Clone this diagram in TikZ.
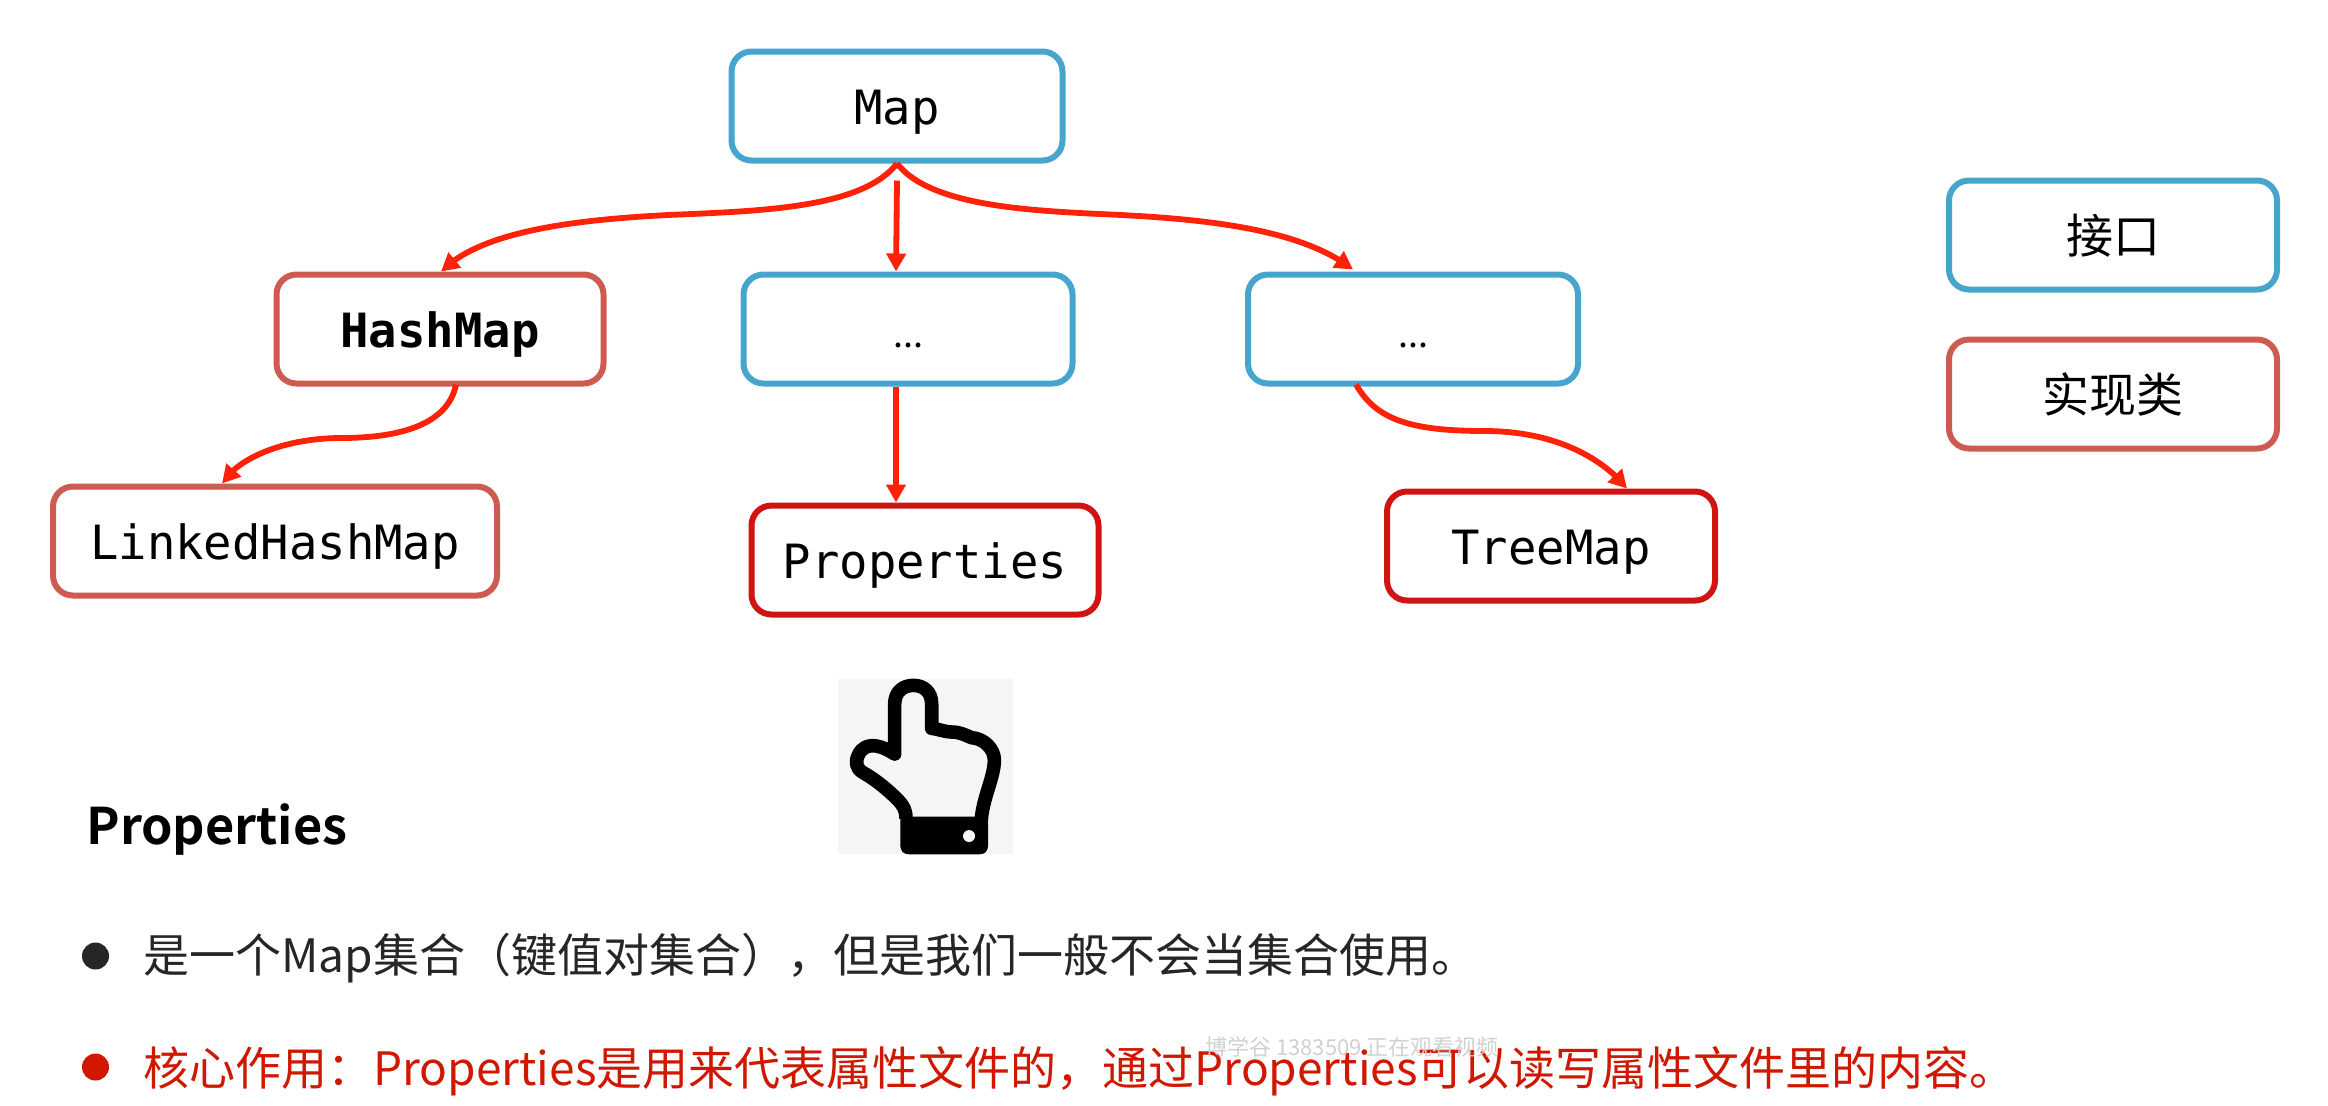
\documentclass[tikz,border=0pt]{standalone}
\usepackage{fontspec}
\usetikzlibrary{arrows.meta,bending}
\setmainfont{Noto Sans CJK SC}
\newfontfamily\cjkfont{Noto Sans CJK SC}
\newfontfamily\cjkbold{Noto Sans CJK SC Bold}
\newfontfamily\monofont{DejaVu Sans Mono}
\definecolor{ifblue}{HTML}{46A5CC}
\definecolor{implred}{HTML}{CD5B52}
\definecolor{deepred}{HTML}{D01414}
\definecolor{arrred}{HTML}{FF2208}
\definecolor{bodyink}{HTML}{262626}
\definecolor{keyred}{HTML}{D01800}
\tikzset{
  x=0.5pt,y=-0.5pt,
  boxbase/.style={rectangle,rounded corners=10pt,line width=3pt,fill=white,inner sep=0pt,
    minimum width=#1*0.5pt-1.5pt,minimum height=112*0.5pt-1.5pt,text=black,
    text height=18pt,text depth=0pt},
  bluebox/.style={boxbase=#1,draw=ifblue},
  brownbox/.style={boxbase=#1,draw=implred},
  redbox/.style={boxbase=#1,draw=deepred},
  codetext/.style={font=\monofont\fontsize{23.6pt}{26pt}\selectfont},
  codebold/.style={font=\monofont\bfseries\fontsize{23.6pt}{26pt}\selectfont},
  legendtext/.style={font=\cjkfont\fontsize{23.5pt}{26pt}\selectfont},
  dotstext/.style={font=\cjkfont\fontsize{18pt}{20pt}\selectfont},
  conn/.style={draw=arrred,line width=2.9pt,-{Triangle[length=9pt,width=9.5pt,flex=1]}},
  bodyline/.style={anchor=west,inner sep=0pt,font=\cjkfont\fontsize{23pt}{26pt}\selectfont},
  dotb/.style={circle,inner sep=0pt,minimum size=13.5pt},
}
\begin{document}
\begin{tikzpicture}
\useasboundingbox (0,0) rectangle (2328,1105);
\fill[white] (0,0) rectangle (2328,1105);

% boxes
\node[bluebox=334]  (map)   at (897,106)  [codetext] {Map};
\node[brownbox=330] (hm)    at (440,329)  [codebold] {HashMap};
\node[bluebox=332]  (d1)    at (908,329)  [dotstext] {...};
\node[bluebox=333]  (d2)    at (1413,329) [dotstext] {...};
\node[brownbox=447] (lhm)   at (275,541)  [codetext] {LinkedHashMap};
\node[redbox=350]   (props) at (925,560)  [codetext] {Properties};
\node[redbox=331]   (tree)  at (1551,546) [codetext] {TreeMap};
\node[bluebox=331]  (lif)   at (2113,235) [legendtext] {接口};
\node[brownbox=331] (lim)   at (2113,394) [legendtext] {实现类};

% connectors
\coordinate (fork) at (map.south);
\draw[conn] (fork) .. controls +(-35,45) and (760,211) .. (668,215)
   .. controls (570,220) and (480,232) .. ([xshift=0.5pt]hm.north);
\draw[conn] (fork) .. controls +(35,45) and (1040,211) .. (1121,215)
   .. controls (1220,220) and (1305,232) .. ([xshift=-30pt,yshift=1pt]d2.north);
\draw[conn] ([yshift=-8.5pt]fork) -- ([xshift=-6pt]d1.north);
\draw[conn] ([xshift=8pt,yshift=1pt]hm.south) .. controls +(-8,40) and (400,438) .. (341,438)
   .. controls (290,438) and (240,455) .. ([xshift=-26.5pt]lhm.north);
\draw[conn] ([xshift=-6pt]d1.south) -- ([xshift=-14.5pt]props.north);
\draw[conn] ([xshift=-28.5pt,yshift=1pt]d2.south) .. controls +(20,35) and (1410,431) .. (1485,431)
   .. controls (1550,431) and (1600,455) .. ([xshift=38pt]tree.north);

% hand icon
\begin{scope}[shift={(820,670)},x=0.1667pt,y=-0.1667pt]
  \fill[black!4] (55,27) rectangle (578,553);
  \draw[black,line width=6.8pt,line join=round,fill=white!96!black]
    (258,445) .. controls (258,415) and (245,400) .. (222,378)
    .. controls (190,348) and (160,325) .. (128,307)
    .. controls (108,295) and (105,275) .. (115,255)
    .. controls (125,232) and (145,224) .. (170,228)
    .. controls (190,232) and (205,240) .. (224,252)
    -- (224,102) .. controls (224,65) and (250,46) .. (280,46)
    .. controls (310,46) and (335,65) .. (335,102)
    -- (335,175) .. controls (360,178) and (375,186) .. (395,186)
    .. controls (420,186) and (435,195) .. (455,203)
    .. controls (490,205) and (523,235) .. (523,270)
    .. controls (523,320) and (490,380) .. (484,445);
  \fill[black] (241,440) -- (241,523) .. controls (241,545) and (250,553) .. (270,553)
    -- (475,553) .. controls (495,553) and (504,545) .. (504,523) -- (504,440) -- cycle;
  \fill[black!4] (447,498) circle[radius=18];
\end{scope}

% text
\node (title) [anchor=west,inner sep=0pt,font=\cjkbold\fontsize{25.2pt}{28pt}\selectfont] at (86,829) {Properties};
\node (b1) [dotb,fill=bodyink] at (95.5,956) {};
\node (l1) [bodyline,text=bodyink] at (143,958) {是一个Map集合（键值对集合），但是我们一般不会当集合使用。};
\node (b2) [dotb,fill=keyred] at (95.5,1067) {};
\node (l2) [bodyline,text=keyred] at (143,1071) {核心作用：Properties是用来代表属性文件的，通过Properties可以读写属性文件里的内容。};
\node (wm) [anchor=west,inner sep=0pt,text=black!18,font=\cjkfont\fontsize{11pt}{13pt}\selectfont] at (1205,1047) {博学谷 1383509 正在观看视频};
\end{tikzpicture}
\end{document}
